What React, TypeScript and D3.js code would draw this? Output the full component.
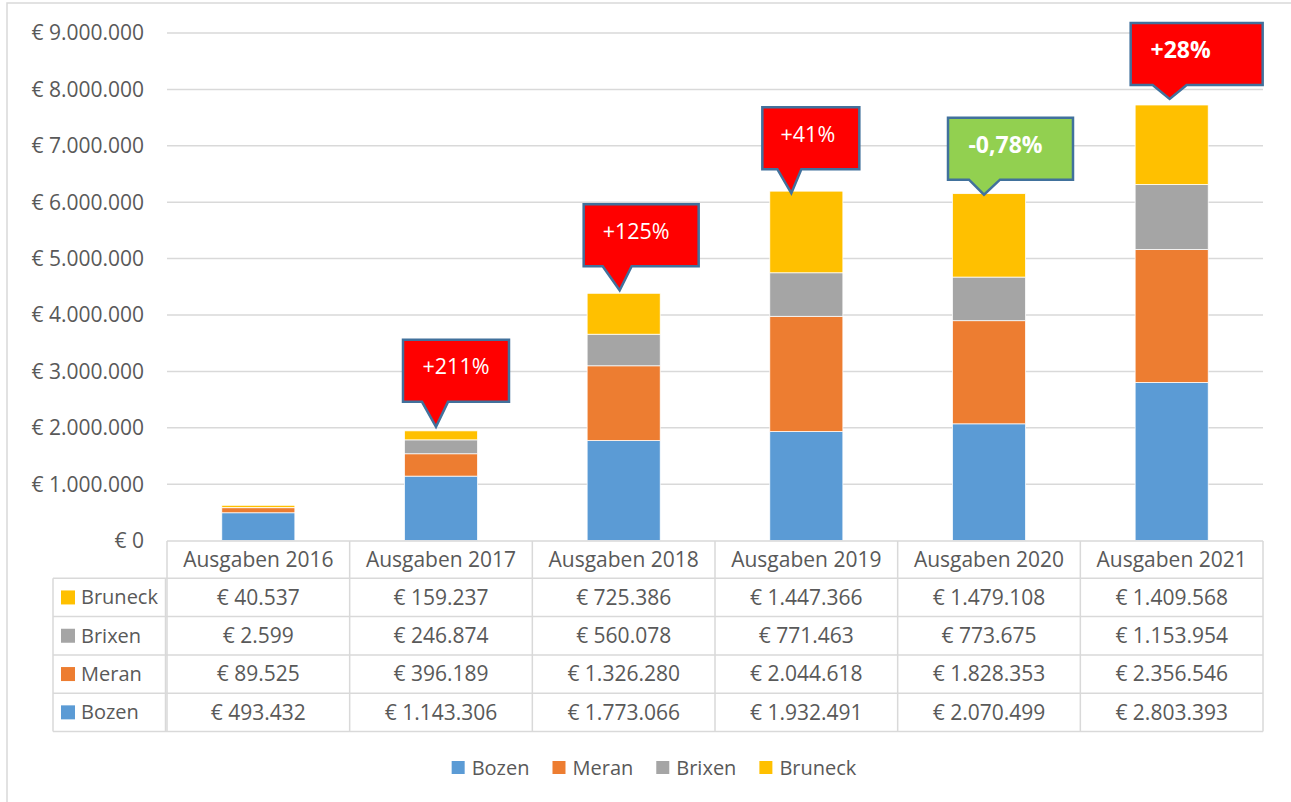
import React, { useEffect, useRef } from 'react';
import * as d3 from 'd3';

const categories = ['Ausgaben 2016', 'Ausgaben 2017', 'Ausgaben 2018', 'Ausgaben 2019', 'Ausgaben 2020', 'Ausgaben 2021'];
const seriesNames = ['Bozen', 'Meran', 'Brixen', 'Bruneck'];
const bozen = [493432, 1143306, 1773066, 1932491, 2070499, 2803393];
const meran = [89525, 396189, 1326280, 2044618, 1828353, 2356546];
const brixen = [2599, 246874, 560078, 771463, 773675, 1153954];
const bruneck = [40537, 159237, 725386, 1447366, 1479108, 1409568];
const yTicks = [0, 1000000, 2000000, 3000000, 4000000, 5000000, 6000000, 7000000, 8000000, 9000000];

// growth callouts (index into categories)
const changeIndex = [1, 2, 3, 4, 5];
const changeLabels = ['+211%', '+125%', '+41%', '-0,78%', '+28%'];
const changeUp = [true, true, true, false, true];

const colors: Record<string, string> = {
  Bozen: '#5B9BD5',
  Meran: '#ED7D31',
  Brixen: '#A5A5A5',
  Bruneck: '#FFC000',
};

// callout shape tweaks (box geometry relative to the pointer tip)
const calloutLayout = [
  { tipDx: -5, tipDy: -4, boxLeft: -33, boxW: 106, gap: 25, baseL: -14, baseR: 12, textDx: 0, bold: false },
  { tipDx: -4, tipDy: -3, boxLeft: -36, boxW: 115, gap: 24, baseL: -17, baseR: 12, textDx: -5, bold: false },
  { tipDx: -15, tipDy: 2, boxLeft: -29, boxW: 97, gap: 24, baseL: -14, baseR: 10, textDx: -3, bold: false },
  { tipDx: -5, tipDy: 1, boxLeft: -36, boxW: 125, gap: 15, baseL: -15, baseR: 16, textDx: -5, bold: true },
  { tipDx: -2, tipDy: -6, boxLeft: -39, boxW: 132, gap: 14, baseL: -17, baseR: 17, textDx: -16, bold: true },
];

const W = 1291;
const H = 802;
const FONT = "'Open Sans', sans-serif";
const TEXT = '#595959';
const LINE = '#D9D9D9';
const FS = '21px';

const locale = d3.formatLocale({ decimal: ',', thousands: '.', grouping: [3], currency: ['€ ', ''] });
const euro = (v: number) => '€ ' + locale.format(',d')(v);

const App: React.FC = () => {
  const svgRef = useRef<SVGSVGElement>(null);

  useEffect(() => {
    if (!svgRef.current) return;
    const svg = d3.select(svgRef.current);
    svg.selectAll('*').remove();

    const left = 167;
    const right = 1263;
    const top = 33;
    const bottom = 540.6;

    const x = d3.scaleBand<string>().domain(categories).range([left, right]).padding(0);
    const y = d3.scaleLinear().domain([0, 9000000]).range([bottom, top]);

    // outer frame
    svg.append('rect')
      .attr('x', 7).attr('y', 3).attr('width', 1320).attr('height', 830)
      .attr('fill', '#fff').attr('stroke', LINE).attr('stroke-width', 1.5);

    // gridlines + y labels
    svg.append('g').selectAll('line').data(yTicks.slice(1)).join('line')
      .attr('x1', left).attr('x2', right)
      .attr('y1', d => y(d)).attr('y2', d => y(d))
      .attr('stroke', LINE).attr('stroke-width', 1.5);

    svg.append('g').selectAll('text').data(yTicks).join('text')
      .attr('x', 144).attr('y', d => y(d))
      .attr('dy', '0.35em')
      .attr('text-anchor', 'end')
      .style('font-family', FONT).style('font-size', FS).style('fill', TEXT)
      .text(d => euro(d));

    // stacked bars
    const rows = categories.map((c, i) => ({
      cat: c, Bozen: bozen[i], Meran: meran[i], Brixen: brixen[i], Bruneck: bruneck[i],
    }));
    const stack = d3.stack<any>().keys(seriesNames)(rows);
    const barW = x.bandwidth() * 0.4;

    svg.append('g').selectAll('g').data(stack).join('g')
      .attr('fill', d => colors[d.key])
      .selectAll('rect').data(d => d).join('rect')
      .attr('x', d => (x(d.data.cat) as number) + (x.bandwidth() - barW) / 2)
      .attr('width', barW)
      .attr('y', d => y(d[1]))
      .attr('height', d => y(d[0]) - y(d[1]))
      .attr('stroke', '#fff').attr('stroke-width', 0.75);

    // data table
    const headTop = 541;
    const rowH = 38.3;
    const rowTop = 578.3;
    const legendLeft = 53;
    const tableRows = [
      { name: 'Bruneck', vals: bruneck },
      { name: 'Brixen', vals: brixen },
      { name: 'Meran', vals: meran },
      { name: 'Bozen', vals: bozen },
    ];
    const tbl = svg.append('g');
    const tableBottom = rowTop + rowH * tableRows.length;

    // horizontal lines
    tbl.append('line').attr('x1', left).attr('x2', right).attr('y1', headTop).attr('y2', headTop);
    tableRows.forEach((_, i) => {
      tbl.append('line').attr('x1', legendLeft).attr('x2', right)
        .attr('y1', rowTop + rowH * i).attr('y2', rowTop + rowH * i);
    });
    tbl.append('line').attr('x1', legendLeft).attr('x2', right).attr('y1', tableBottom).attr('y2', tableBottom);
    // vertical lines
    tbl.append('line').attr('x1', legendLeft).attr('x2', legendLeft).attr('y1', rowTop).attr('y2', tableBottom);
    tbl.append('line').attr('x1', left - 1.5).attr('x2', left - 1.5).attr('y1', rowTop).attr('y2', tableBottom);
    categories.forEach((c, i) => {
      const cx = (x(c) as number);
      tbl.append('line').attr('x1', cx).attr('x2', cx).attr('y1', headTop).attr('y2', tableBottom);
      if (i === categories.length - 1) {
        tbl.append('line').attr('x1', right).attr('x2', right).attr('y1', headTop).attr('y2', tableBottom);
      }
    });
    tbl.selectAll('line').attr('stroke', LINE).attr('stroke-width', 1.5);

    // header text
    tbl.selectAll('text.head').data(categories).join('text')
      .attr('class', 'head')
      .attr('x', d => (x(d) as number) + x.bandwidth() / 2)
      .attr('y', (headTop + rowTop) / 2)
      .attr('dy', '0.35em').attr('text-anchor', 'middle')
      .style('font-family', FONT).style('font-size', FS).style('fill', TEXT)
      .text(d => d);

    tableRows.forEach((r, i) => {
      const cy = rowTop + rowH * i + rowH / 2;
      tbl.append('rect')
        .attr('x', 61).attr('y', cy - 7).attr('width', 14).attr('height', 14)
        .attr('fill', colors[r.name]);
      tbl.append('text')
        .attr('x', 81).attr('y', cy).attr('dy', '0.35em')
        .style('font-family', FONT).style('font-size', '20px').style('fill', TEXT)
        .text(r.name);
      r.vals.forEach((v, j) => {
        tbl.append('text')
          .attr('x', (x(categories[j]) as number) + x.bandwidth() / 2)
          .attr('y', cy).attr('dy', '0.35em').attr('text-anchor', 'middle')
          .style('font-family', FONT).style('font-size', FS).style('fill', TEXT)
          .text(euro(v));
      });
    });

    // callouts
    const totals = categories.map((_, i) => bozen[i] + meran[i] + brixen[i] + bruneck[i]);
    changeIndex.forEach((ci, k) => {
      const L = calloutLayout[k];
      const tipX = (x(categories[ci]) as number) + x.bandwidth() / 2 + L.tipDx;
      const tipY = y(totals[ci]) + L.tipDy;
      const bx0 = tipX + L.boxLeft;
      const bx1 = bx0 + L.boxW;
      const by1 = tipY - L.gap;
      const by0 = by1 - 62;
      const path = d3.path();
      path.moveTo(bx0, by0);
      path.lineTo(bx1, by0);
      path.lineTo(bx1, by1);
      path.lineTo(tipX + L.baseR, by1);
      path.lineTo(tipX, tipY);
      path.lineTo(tipX + L.baseL, by1);
      path.lineTo(bx0, by1);
      path.closePath();
      svg.append('path')
        .attr('d', path.toString())
        .attr('fill', changeUp[k] ? '#FF0000' : '#92D050')
        .attr('stroke', '#41719C').attr('stroke-width', 2.5)
        .attr('stroke-linejoin', 'miter');
      svg.append('text')
        .attr('x', (bx0 + bx1) / 2 + L.textDx)
        .attr('y', by0 + 27).attr('dy', '0.35em').attr('text-anchor', 'middle')
        .style('font-family', FONT).style('font-size', L.bold ? '23px' : '21.5px')
        .style('font-weight', L.bold ? 700 : 400)
        .style('fill', '#fff')
        .text(changeLabels[k]);
    });

    // bottom legend
    const lg = svg.append('g');
    let cursor = 0;
    seriesNames.forEach(n => {
      const g = lg.append('g').attr('transform', `translate(${cursor},0)`);
      g.append('rect').attr('x', 0).attr('y', -7).attr('width', 13).attr('height', 13).attr('fill', colors[n]);
      const t = g.append('text').attr('x', 20).attr('y', 0).attr('dy', '0.35em')
        .style('font-family', FONT).style('font-size', '20px').style('fill', TEXT).text(n);
      const tw = (t.node() as SVGTextElement).getComputedTextLength();
      cursor += 20 + tw + 23;
    });
    const total = cursor - 23;
    lg.attr('transform', `translate(${654 - total / 2},768)`);
  }, []);

  return (
    <div style={{ position: 'absolute', left: 0, top: 0 }}>
      <svg ref={svgRef} width={W} height={H} style={{ display: 'block' }} />
    </div>
  );
};

export default App;
